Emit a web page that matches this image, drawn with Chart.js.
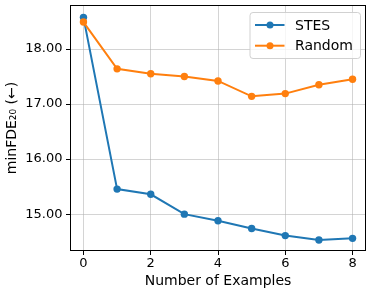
<!DOCTYPE html>
<html>
<head>
<meta charset="utf-8">
<script src="https://cdn.jsdelivr.net/npm/chart.js@4.4.1/dist/chart.umd.min.js"></script>
<style>
  html, body { margin: 0; padding: 0; background: #fff; }
  #wrap { width: 373px; height: 295px; }
</style>
</head>
<body>
<div id="wrap"><canvas id="c" width="373" height="295"></canvas></div>
<script>
const examples = [0, 1, 2, 3, 4, 5, 6, 7, 8];
const stesValues = [18.576, 15.455, 15.36, 15.0, 14.88, 14.74, 14.61, 14.53, 14.56];
const randomValues = [18.49, 17.64, 17.55, 17.50, 17.42, 17.14, 17.19, 17.35, 17.45];
const xTicks = [0, 2, 4, 6, 8];
const yTicks = [15, 16, 17, 18];
const seriesNames = ['STES', 'Random'];
const seriesColors = ['#1f77b4', '#ff7f0e'];
const xTitle = 'Number of Examples';
const yTitle = 'minFDE\u2082\u2080 (\u2190)';

const FONT = "'DejaVu Sans', sans-serif";

const framePlugin = {
  id: 'frame',
  afterDatasetsDraw(chart) {
    const a = chart.chartArea;
    const ctx = chart.ctx;
    ctx.save();
    ctx.strokeStyle = '#000';
    ctx.lineWidth = 1;
    ctx.strokeRect(Math.round(a.left) + 0.5, Math.round(a.top) + 0.5,
                   Math.round(a.right - a.left) - 1, Math.round(a.bottom - a.top) - 1);
    ctx.restore();
  }
};

const legendPlugin = {
  id: 'mplLegend',
  afterDraw(chart) {
    const ctx = chart.ctx;
    const x0 = 250, y0 = 12.5, w = 110.5, h = 46, r = 3;
    ctx.save();
    ctx.beginPath();
    ctx.moveTo(x0 + r, y0);
    ctx.lineTo(x0 + w - r, y0);
    ctx.arcTo(x0 + w, y0, x0 + w, y0 + r, r);
    ctx.lineTo(x0 + w, y0 + h - r);
    ctx.arcTo(x0 + w, y0 + h, x0 + w - r, y0 + h, r);
    ctx.lineTo(x0 + r, y0 + h);
    ctx.arcTo(x0, y0 + h, x0, y0 + h - r, r);
    ctx.lineTo(x0, y0 + r);
    ctx.arcTo(x0, y0, x0 + r, y0, r);
    ctx.closePath();
    ctx.fillStyle = 'rgba(255,255,255,0.8)';
    ctx.fill();
    ctx.strokeStyle = 'rgba(204,204,204,0.9)';
    ctx.lineWidth = 1;
    ctx.stroke();
    const rows = [25, 45.7];
    chart.data.datasets.forEach((ds, i) => {
      const y = rows[i];
      ctx.strokeStyle = ds.borderColor;
      ctx.lineWidth = 2;
      ctx.beginPath();
      ctx.moveTo(255, y);
      ctx.lineTo(284.5, y);
      ctx.stroke();
      ctx.fillStyle = ds.borderColor;
      ctx.beginPath();
      ctx.arc(270, y, 3.5, 0, Math.PI * 2);
      ctx.fill();
      ctx.fillStyle = '#000';
      ctx.font = '14px ' + FONT;
      ctx.textBaseline = 'middle';
      ctx.textAlign = 'left';
      ctx.fillText(ds.label, 295, y + 1);
    });
    ctx.restore();
  }
};

const makeSeries = (vals) => examples.map((x, i) => ({ x: x, y: vals[i] }));

new Chart(document.getElementById('c'), {
  type: 'line',
  data: {
    datasets: [
      {
        label: seriesNames[0],
        data: makeSeries(stesValues),
        borderColor: seriesColors[0],
        backgroundColor: seriesColors[0],
        borderWidth: 2,
        pointRadius: 3.7,
        pointHoverRadius: 3.7,
        pointBorderWidth: 0,
        order: 2,
        tension: 0
      },
      {
        label: seriesNames[1],
        data: makeSeries(randomValues),
        borderColor: seriesColors[1],
        backgroundColor: seriesColors[1],
        borderWidth: 2,
        pointRadius: 3.7,
        pointHoverRadius: 3.7,
        pointBorderWidth: 0,
        order: 1,
        tension: 0
      }
    ]
  },
  options: {
    responsive: false,
    animation: false,
    devicePixelRatio: 1,
    layout: { padding: { top: 5, right: 7, left: 0, bottom: 0 } },
    plugins: {
      legend: { display: false },
      tooltip: { enabled: false }
    },
    scales: {
      x: {
        type: 'linear',
        min: -0.4,
        max: 8.4,
        afterBuildTicks: (s) => { s.ticks = xTicks.map(v => ({ value: v })); },
        afterFit: (s) => { s.height = 44; s.paddingLeft = 0; s.paddingRight = 0; },
        border: { display: false },
        grid: {
          color: 'rgba(176,176,176,0.55)',
          lineWidth: 1,
          drawTicks: true,
          tickLength: 4,
          tickColor: '#000',
          tickWidth: 1
        },
        ticks: {
          color: '#000',
          font: { family: FONT, size: 13 },
          padding: 1,
          maxRotation: 0,
          callback: (v) => String(v)
        },
        title: {
          display: true,
          text: xTitle,
          color: '#000',
          font: { family: FONT, size: 14 },
          padding: { top: 0, bottom: 5 }
        }
      },
      y: {
        type: 'linear',
        min: 14.33,
        max: 18.8,
        afterBuildTicks: (s) => { s.ticks = yTicks.map(v => ({ value: v })); },
        afterFit: (s) => { s.width = 70; s.paddingTop = 0; s.paddingBottom = 0; },
        border: { display: false },
        grid: {
          color: 'rgba(176,176,176,0.55)',
          lineWidth: 1,
          drawTicks: true,
          tickLength: 4,
          tickColor: '#000',
          tickWidth: 1
        },
        ticks: {
          color: '#000',
          font: { family: FONT, size: 13 },
          padding: 3.5,
          callback: (v) => Number(v).toFixed(2)
        },
        title: {
          display: true,
          text: yTitle,
          color: '#000',
          font: { family: FONT, size: 14 },
          padding: { top: 4, bottom: 0 }
        }
      }
    }
  },
  plugins: [framePlugin, legendPlugin]
});
</script>
</body>
</html>
